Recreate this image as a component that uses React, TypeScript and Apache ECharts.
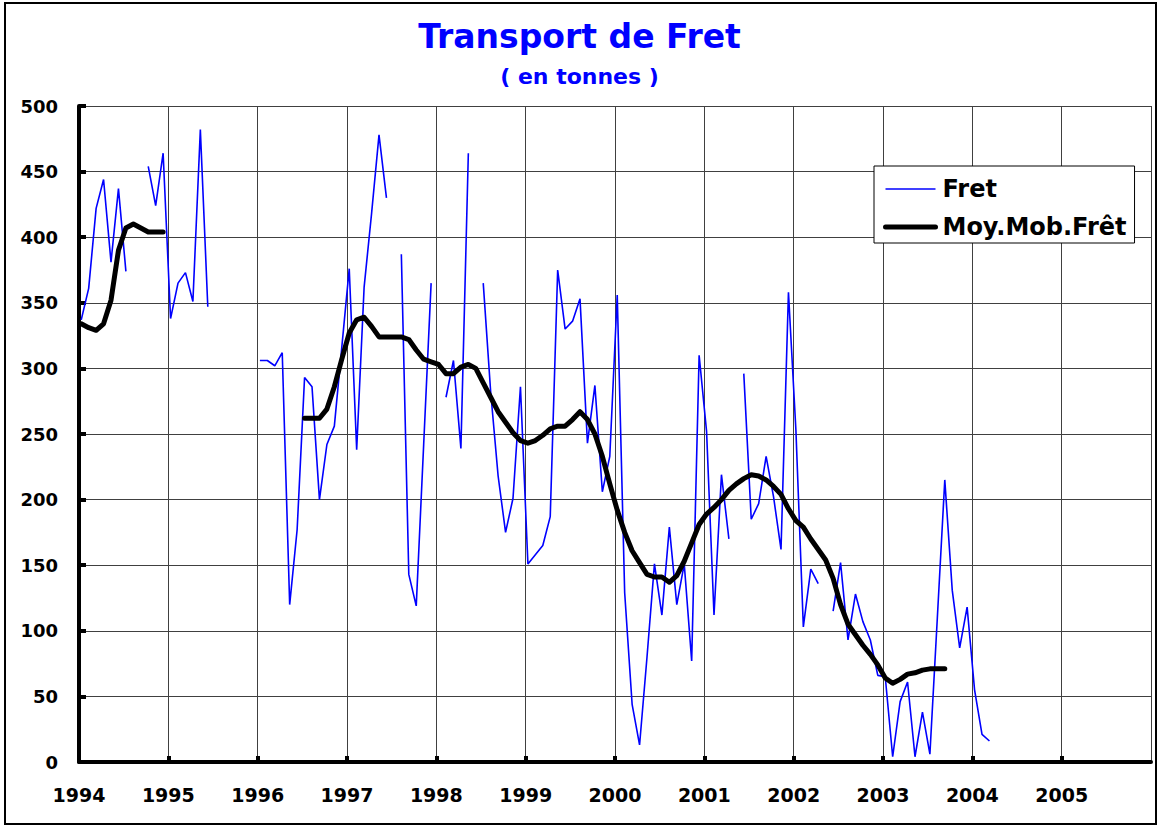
import React, { useEffect, useRef } from 'react';
import * as echarts from 'echarts';

// Monthly freight (tonnes), Jan..Dec of each year; null = no data
const fret1994 = [337, 361, 422, 444, 381, 437, 374, null, null, 454, 424, 464];
const fret1995 = [338, 365, 373, 351, 482, 347, null, null, null, null, null, null];
const fret1996 = [306, 306, 302, 312, 120, 177, 293, 286, 200, 242, 256, 316];
const fret1997 = [376, 238, 362, 418, 478, 430, null, 387, 143, 119, 242, 365];
const fret1998 = [null, 278, 306, 239, 464, null, 365, 282, 218, 175, 201, 286];
const fret1999 = [151, 158, 165, 187, 375, 330, 336, 353, 243, 287, 206, 233];
const fret2000 = [356, 129, 44, 13, 80, 151, 112, 179, 120, 151, 77, 310];
const fret2001 = [252, 112, 219, 170, null, 296, 185, 197, 233, 202, 162, 358];
const fret2002 = [253, 103, 147, 136, null, 115, 152, 93, 128, 107, 93, 66];
const fret2003 = [65, 4, 46, 61, 4, 38, 6, 110, 215, 131, 87, 118];
const fret2004 = [55, 21, 16];

// Moving average (Moy.Mob.Frêt)
const moy1994 = [334, 331, 329, 334, 352, 390, 407, 410, 407, 404, 404, 404];
const moy1995 = [null, null, null, null, null, null, null, null, null, null, null, null];
const moy1996 = [null, null, null, null, null, null, 262, 262, 262, 269, 286, 307];
const moy1997 = [327, 337, 339, 332, 324, 324, 324, 324, 322, 314, 307, 305];
const moy1998 = [303, 296, 296, 301, 303, 300, 289, 278, 267, 259, 251, 245];
const moy1999 = [243, 245, 249, 254, 256, 256, 261, 267, 261, 250, 233, 212];
const moy2000 = [192, 175, 161, 152, 143, 141, 141, 137, 142, 153, 167, 181];
const moy2001 = [189, 194, 200, 207, 212, 216, 219, 218, 215, 210, 204, 193];
const moy2002 = [184, 179, 170, 162, 154, 140, 120, 105, 97, 89, 82, 74];
const moy2003 = [64, 60, 63, 67, 68, 70, 71, 71, 71];

const startYear = 1994;
const xTickLabels = ['1994', '1995', '1996', '1997', '1998', '1999', '2000', '2001', '2002', '2003', '2004', '2005'];

const fretYears = [fret1994, fret1995, fret1996, fret1997, fret1998, fret1999, fret2000, fret2001, fret2002, fret2003, fret2004];
const moyYears = [moy1994, moy1995, moy1996, moy1997, moy1998, moy1999, moy2000, moy2001, moy2002, moy2003];

const FONT = "'DejaVu Sans', 'Liberation Sans', Arial, sans-serif";

function toPoints(years: (number | null)[][]) {
  const pts: any[] = [];
  years.forEach((arr, yi) => {
    arr.forEach((v, m) => {
      const x = startYear + yi + (m + 0.3) / 12;
      pts.push([x, v === null ? '-' : v]);
    });
  });
  return pts;
}

export default function App() {
  const ref = useRef<HTMLDivElement>(null);
  useEffect(() => {
    const chart = echarts.init(ref.current!, null, { renderer: 'svg' });
    const option: any = {
      animation: false,
      backgroundColor: '#ffffff',
      title: [
        {
          text: 'Transport de Fret',
          left: 'center',
          top: 20,
          padding: 0,
          textStyle: { fontFamily: FONT, fontWeight: 'bold', fontSize: 33, color: '#0000ff' },
        },
        {
          text: '( en tonnes )',
          left: 'center',
          top: 65,
          padding: 0,
          textStyle: { fontFamily: FONT, fontWeight: 'bold', fontSize: 22, color: '#0000ff' },
        },
      ],
      legend: {
        left: 874,
        top: 166,
        orient: 'vertical',
        backgroundColor: '#ffffff',
        borderColor: '#000000',
        borderWidth: 1,
        borderRadius: 0,
        padding: [11, 8, 4, 9],
        itemGap: 14,
        itemWidth: 50,
        itemHeight: 14,
        itemStyle: { opacity: 0 },
        textStyle: { fontFamily: FONT, fontWeight: 'bold', fontSize: 24, color: '#000000', padding: [0, 0, 0, 2] },
        data: [
          { name: 'Fret', lineStyle: { width: 1.6, color: '#0000ff' } },
          { name: 'Moy.Mob.Frêt', lineStyle: { width: 5, color: '#000000', cap: 'round' } },
        ],
      },
      grid: { left: 79, right: 8, top: 106, bottom: 65, containLabel: false },
      xAxis: {
        type: 'value',
        min: 1994,
        max: 2006,
        interval: 1,
        axisLine: { show: true, lineStyle: { color: '#000000', width: 4 } },
        axisTick: { show: true, inside: true, length: 6, lineStyle: { color: '#000000', width: 4 } },
        axisLabel: {
          margin: 23,
          fontFamily: FONT,
          fontWeight: 'bold',
          fontSize: 19,
          color: '#000000',
          showMaxLabel: false,
          formatter: (v: number) => xTickLabels[Math.round(v) - startYear] ?? '',
        },
        splitLine: { show: true, lineStyle: { color: '#404040', width: 1 } },
      },
      yAxis: {
        type: 'value',
        min: 0,
        max: 500,
        interval: 50,
        axisLine: { show: true, lineStyle: { color: '#000000', width: 4 } },
        axisTick: { show: true, inside: true, length: 7, lineStyle: { color: '#000000', width: 4 } },
        axisLabel: { margin: 21, fontFamily: FONT, fontWeight: 'bold', fontSize: 18, color: '#000000' },
        splitLine: { show: true, lineStyle: { color: '#404040', width: 1 } },
      },
      graphic: [
        {
          type: 'rect',
          shape: { x: 5, y: 3, width: 1151, height: 821 },
          style: { fill: 'none', stroke: '#000000', lineWidth: 2 },
          silent: true,
          z: 100,
        },
      ],
      series: [
        {
          name: 'Fret',
          type: 'line',
          data: toPoints(fretYears),
          showSymbol: false,
          symbol: 'none',
          connectNulls: false,
          lineStyle: { color: '#0000ff', width: 1.6 },
          itemStyle: { color: '#0000ff' },
        },
        {
          name: 'Moy.Mob.Frêt',
          type: 'line',
          data: toPoints(moyYears),
          showSymbol: false,
          symbol: 'none',
          connectNulls: false,
          lineStyle: { color: '#000000', width: 5, cap: 'round', join: 'round' },
          itemStyle: { color: '#000000' },
        },
      ],
    };
    chart.setOption(option);
    return () => chart.dispose();
  }, []);
  return (
    <div
      ref={ref}
      style={{ position: 'absolute', left: 0, top: 0, width: 1159, height: 827, background: '#fff' }}
    />
  );
}
